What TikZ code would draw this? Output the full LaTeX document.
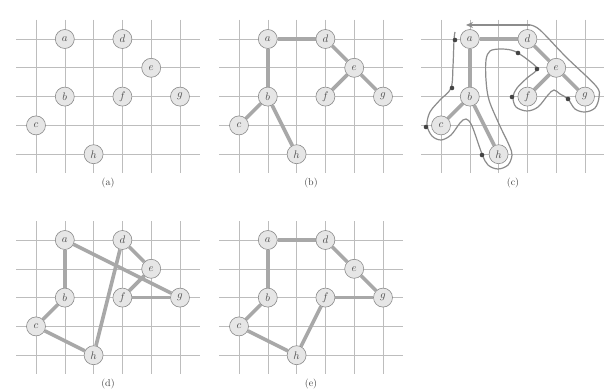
\documentclass[tikz,border=0pt]{standalone}
\usetikzlibrary{arrows.meta}
\pgfdeclarelayer{gridl}
\pgfdeclarelayer{edgel}
\pgfsetlayers{gridl,edgel,main}
\definecolor{gridc}{HTML}{BDBDBD}
\definecolor{edgec}{HTML}{A8A8A8}
\definecolor{vfill}{HTML}{E6E6E6}
\definecolor{vdraw}{HTML}{8A8A8A}
\definecolor{tourc}{HTML}{8C8C8C}
\definecolor{dotc}{HTML}{444444}
\tikzset{
  gridline/.style={draw=gridc, line width=0.6pt},
  vtx/.style={circle, minimum size=19pt, inner sep=0pt, fill=vfill, draw=vdraw, line width=0.6pt, text=black!70, font=\fontsize{11}{11}\selectfont},
  capt/.style={font=\fontsize{10}{10}\selectfont, text=black!75},
  edge/.style={draw=edgec, line width=3.6pt},
  tour/.style={draw=tourc, line width=1.2pt},
  tdot/.style={fill=dotc}
}
\newcommand\mypanel[4]{%
  \begin{scope}[shift={(#2,#3)}]
    \begin{pgfonlayer}{gridl}
      \foreach \j in {0,...,4} \draw[gridline] (16,{39+28.8*\j}) -- (200,{39+28.8*\j});
      \foreach \i in {0,...,5} \draw[gridline] ({36+28.8*\i},20) -- ({36+28.8*\i},173);
    \end{pgfonlayer}
    \node[vtx] (#1a) at (64.8,39) {$a$};
    \node[vtx] (#1d) at (122.4,39) {$d$};
    \node[vtx] (#1e) at (151.2,67.8) {$e$};
    \node[vtx] (#1b) at (64.8,96.6) {$b$};
    \node[vtx] (#1f) at (122.4,96.6) {$f$};
    \node[vtx] (#1g) at (180,96.6) {$g$};
    \node[vtx] (#1c) at (36,125.4) {$c$};
    \node[vtx] (#1h) at (93.6,154.2) {$h$};
    \node[capt] (#1cap) at (108,183) {#4};
  \end{scope}}
\begin{document}
\begin{tikzpicture}[x=1pt,y=-1pt]
  \useasboundingbox (0,0) rectangle (604,390);
  \begin{pgfonlayer}{gridl}
    \fill[white] (0,0) rectangle (604,390);
  \end{pgfonlayer}
  \mypanel{A}{0}{0}{(a)}
  \mypanel{B}{203}{0}{(b)}
  \mypanel{C}{405}{0}{(c)}
  \mypanel{D}{0}{201}{(d)}
  \mypanel{E}{203}{201}{(e)}
  \begin{pgfonlayer}{edgel}
    % (b) minimum spanning tree
    \foreach \u/\v in {a/d,a/b,b/c,b/h,d/e,e/f,e/g}{
      \draw[edge] (B\u) -- (B\v);
      \draw[edge] (C\u) -- (C\v);
    }
    % (d) preorder tour
    \foreach \u/\v in {a/b,b/c,c/h,h/d,d/e,e/f,f/g,g/a}
      \draw[edge] (D\u) -- (D\v);
    % (e) optimal tour
    \foreach \u/\v in {a/b,b/c,c/h,h/f,f/g,g/e,e/d,d/a}
      \draw[edge] (E\u) -- (E\v);
  \end{pgfonlayer}
  % (c) full walk contour
  \coordinate (walkend) at (466,25);
  \draw[tour] plot[smooth, tension=0.55] coordinates {
    (455,32) (454,40) (453,66) (451,88) (440,100) (430,112) (427,125)
    (432,136) (441,140) (451,135) (460,123) (466,119) (472,126) (482,154)
    (488,165) (498,169) (508,165) (512,155) (509,145) (499,124) (489,100)
    (486,80) (486,60) (490,51) (500,49) (511,50) (518,53) (528,60) (537,69)
    (527,78) (517,88) (513,97) (516,107) (527,111) (538,107) (548,95)
    (554,90) (560,94) (568,99) (575,109) (585,112) (595,108) (599,97)
    (596,86) (566,57) (540,30) (530,25)};
  \draw[tour, -{Stealth[length=7pt,width=6pt]}] (530,25) -- (walkend);
  \foreach \p in {(455,40),(452,88),(426,127),(482,155),(518,53),(537,69),(512,97),(568,99)}
    \fill[tdot] \p circle (2.3pt);
\end{tikzpicture}
\end{document}
